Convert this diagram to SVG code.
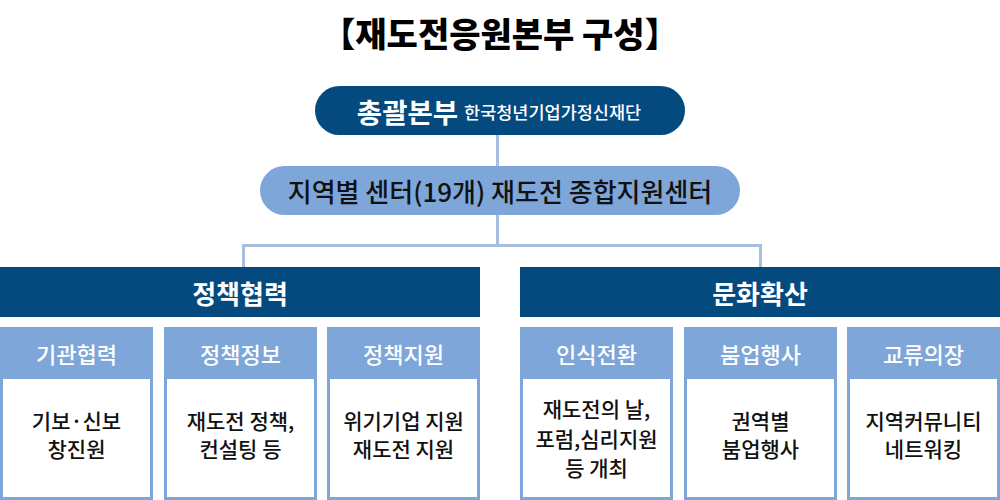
<svg xmlns="http://www.w3.org/2000/svg" width="1000" height="500" viewBox="0 0 1000 500">
<style>
text{font-family:"Noto Sans CJK KR","Noto Sans",sans-serif;text-anchor:middle;dominant-baseline:central}
.dark{fill:#044a7f}
.mid{fill:#7ea6d8}
.wt{fill:#ffffff}
.title{font-size:34px;font-weight:900;fill:#000}
.sec{font-size:26px;font-weight:700;fill:#fff}
.hd{font-size:22px;font-weight:500;fill:#fff}
.bd{font-size:21px;font-weight:500;fill:#111}
.conn{fill:none;stroke:#a7bedf;stroke-width:3}
</style>
<text class="title" x="500" y="32">【재도전응원본부 구성】</text>
<g id="connectors">
<path class="conn" d="M497.5 135 V166"/>
<path class="conn" d="M497.5 215 V245.5"/>
<path class="conn" d="M243.5 267 V245.5 H760.5 V267"/>
</g>
<g id="hq">
<rect class="dark" x="315" y="86" width="370" height="49" rx="24.5"/>
<text x="499" y="111"><tspan font-size="27.5" font-weight="700" fill="#fff">총괄본부</tspan><tspan font-size="17.5" font-weight="500" fill="#fff" dx="6">한국청년기업가정신재단</tspan></text>
</g>
<g id="centers">
<rect class="mid" x="260" y="166" width="480" height="49" rx="24.5"/>
<text x="500" y="190" font-size="26" fill="#111" font-weight="500">지역별 센터(19개) 재도전 종합지원센터</text>
</g>
<g id="policy">
<rect class="dark" x="0" y="267" width="480" height="50"/>
<text class="sec" x="240" y="292">정책협력</text>
</g>
<g id="culture">
<rect class="dark" x="520" y="267" width="480" height="50"/>
<text class="sec" x="760" y="292">문화확산</text>
</g>
<g id="box1">
<rect class="mid" x="0" y="327" width="153" height="173"/>
<rect class="wt" x="3" y="379" width="147" height="118"/>
<text class="hd" x="76.5" y="353">기관협력</text>
<text class="bd" x="76.5" y="420">기보·신보</text>
<text class="bd" x="76.5" y="448">창진원</text>
</g>
<g id="box2">
<rect class="mid" x="164" y="327" width="153" height="173"/>
<rect class="wt" x="167" y="379" width="147" height="118"/>
<text class="hd" x="240.5" y="353">정책정보</text>
<text class="bd" x="240.5" y="420">재도전 정책,</text>
<text class="bd" x="240.5" y="448">컨설팅 등</text>
</g>
<g id="box3">
<rect class="mid" x="327" y="327" width="153" height="173"/>
<rect class="wt" x="330" y="379" width="147" height="118"/>
<text class="hd" x="403.5" y="353">정책지원</text>
<text class="bd" x="403.5" y="420">위기기업 지원</text>
<text class="bd" x="403.5" y="448">재도전 지원</text>
</g>
<g id="box4">
<rect class="mid" x="520" y="327" width="153" height="173"/>
<rect class="wt" x="523" y="379" width="147" height="118"/>
<text class="hd" x="596.5" y="353">인식전환</text>
<text class="bd" x="596.5" y="408">재도전의 날,</text>
<text class="bd" x="596.5" y="438">포럼,심리지원</text>
<text class="bd" x="596.5" y="467">등 개최</text>
</g>
<g id="box5">
<rect class="mid" x="684" y="327" width="153" height="173"/>
<rect class="wt" x="687" y="379" width="147" height="118"/>
<text class="hd" x="760.5" y="353">붐업행사</text>
<text class="bd" x="760.5" y="420">권역별</text>
<text class="bd" x="760.5" y="448">붐업행사</text>
</g>
<g id="box6">
<rect class="mid" x="847" y="327" width="153" height="173"/>
<rect class="wt" x="850" y="379" width="147" height="118"/>
<text class="hd" x="923.5" y="353">교류의장</text>
<text class="bd" x="923.5" y="420">지역커뮤니티</text>
<text class="bd" x="923.5" y="448">네트워킹</text>
</g>
</svg>
